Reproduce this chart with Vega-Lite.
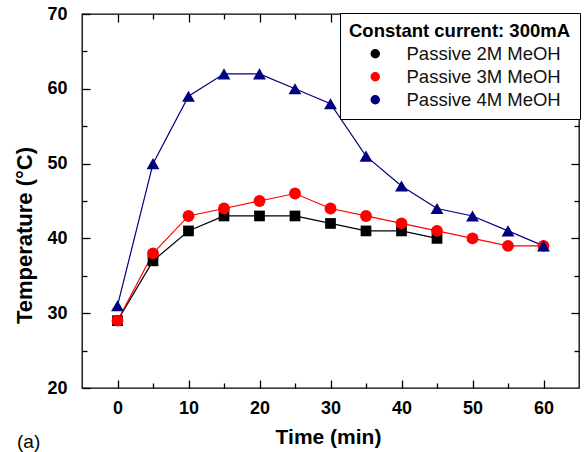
{
  "$schema": "https://vega.github.io/schema/vega-lite/v6.json",
  "width": 497,
  "height": 374,
  "autosize": "none",
  "padding": {"left": 82, "top": 14, "right": 5, "bottom": 64},
  "background": "white",
  "title": {"text": "(a)", "orient": "bottom", "anchor": "start", "frame": "group", "font": "Liberation Sans", "fontSize": 19, "fontWeight": "normal", "color": "black", "dx": -65, "dy": -18},
  "data": {"values": [
    {"t": 0, "temp": 29, "s": "Passive 2M MeOH"},
    {"t": 5, "temp": 37, "s": "Passive 2M MeOH"},
    {"t": 10, "temp": 41, "s": "Passive 2M MeOH"},
    {"t": 15, "temp": 43, "s": "Passive 2M MeOH"},
    {"t": 20, "temp": 43, "s": "Passive 2M MeOH"},
    {"t": 25, "temp": 43, "s": "Passive 2M MeOH"},
    {"t": 30, "temp": 42, "s": "Passive 2M MeOH"},
    {"t": 35, "temp": 41, "s": "Passive 2M MeOH"},
    {"t": 40, "temp": 41, "s": "Passive 2M MeOH"},
    {"t": 45, "temp": 40, "s": "Passive 2M MeOH"},
    {"t": 0, "temp": 29, "s": "Passive 3M MeOH"},
    {"t": 5, "temp": 38, "s": "Passive 3M MeOH"},
    {"t": 10, "temp": 43, "s": "Passive 3M MeOH"},
    {"t": 15, "temp": 44, "s": "Passive 3M MeOH"},
    {"t": 20, "temp": 45, "s": "Passive 3M MeOH"},
    {"t": 25, "temp": 46, "s": "Passive 3M MeOH"},
    {"t": 30, "temp": 44, "s": "Passive 3M MeOH"},
    {"t": 35, "temp": 43, "s": "Passive 3M MeOH"},
    {"t": 40, "temp": 42, "s": "Passive 3M MeOH"},
    {"t": 45, "temp": 41, "s": "Passive 3M MeOH"},
    {"t": 50, "temp": 40, "s": "Passive 3M MeOH"},
    {"t": 55, "temp": 39, "s": "Passive 3M MeOH"},
    {"t": 60, "temp": 39, "s": "Passive 3M MeOH"},
    {"t": 0, "temp": 31, "s": "Passive 4M MeOH"},
    {"t": 5, "temp": 50, "s": "Passive 4M MeOH"},
    {"t": 10, "temp": 59, "s": "Passive 4M MeOH"},
    {"t": 15, "temp": 62, "s": "Passive 4M MeOH"},
    {"t": 20, "temp": 62, "s": "Passive 4M MeOH"},
    {"t": 25, "temp": 60, "s": "Passive 4M MeOH"},
    {"t": 30, "temp": 58, "s": "Passive 4M MeOH"},
    {"t": 35, "temp": 51, "s": "Passive 4M MeOH"},
    {"t": 40, "temp": 47, "s": "Passive 4M MeOH"},
    {"t": 45, "temp": 44, "s": "Passive 4M MeOH"},
    {"t": 50, "temp": 43, "s": "Passive 4M MeOH"},
    {"t": 55, "temp": 41, "s": "Passive 4M MeOH"},
    {"t": 60, "temp": 39, "s": "Passive 4M MeOH"}
  ]},
  "resolve": {"axis": {"x": "independent", "y": "independent"}},
  "layer": [
    {
      "mark": {"type": "line", "strokeWidth": 1.2},
      "encoding": {
        "x": {"field": "t", "type": "quantitative", "scale": {"domain": [-5, 65], "nice": false, "zero": false},
          "axis": {"orient": "bottom", "title": "Time (min)", "values": [0,10,20,30,40,50,60], "tickSize": 8, "offset": -8, "domain": false,
            "labelPadding": 11, "titleX": 246, "titleY": 63, "titleBaseline": "alphabetic", "titleAlign": "center", "titleFontSize": 21}},
        "y": {"field": "temp", "type": "quantitative", "scale": {"domain": [20, 70], "nice": false, "zero": false},
          "axis": {"orient": "left", "title": "Temperature (°C)", "values": [20,30,40,50,60,70], "tickSize": 8, "offset": -8, "domain": false,
            "labelPadding": 15, "titleX": -59, "titleY": 221, "titleAngle": -90, "titleBaseline": "alphabetic", "titleAlign": "center", "titleFontSize": 22}},
        "color": {"field": "s", "type": "nominal",
          "scale": {"domain": ["Passive 2M MeOH", "Passive 3M MeOH", "Passive 4M MeOH"], "range": ["#000000", "#ff0000", "#000080"]}},
        "detail": {"field": "s"}
      }
    },
    {
      "transform": [{"filter": "datum.s === 'Passive 2M MeOH'"}],
      "mark": {"type": "point", "shape": "square", "filled": true, "opacity": 1, "size": 115, "strokeWidth": 0},
      "encoding": {
        "x": {"field": "t", "type": "quantitative", "axis": null},
        "y": {"field": "temp", "type": "quantitative", "axis": null},
        "color": {"field": "s", "type": "nominal",
          "legend": {
            "title": "Constant current: 300mA",
            "orient": "none", "legendX": 258, "legendY": -1,
            "strokeColor": "black", "fillColor": "white", "padding": 9,
            "titleFont": "Liberation Sans", "titleFontSize": 18.5, "titleFontWeight": "bold", "titleColor": "black", "titleLimit": 400,
            "labelFont": "Liberation Sans", "labelFontSize": 18.5, "labelColor": "#111111", "labelLimit": 400,
            "symbolSize": 64, "symbolOffset": 17, "labelOffset": 22, "rowPadding": 4, "titlePadding": 4,
            "encode": {
              "symbols": {
                "shape": {"condition": [
                  {"test": "datum.value === 'Passive 2M MeOH'", "value": "M-3.75,0H-1.2M1.5,0H6.7M-0.9,-0.9H0.9V0.9H-0.9Z"},
                  {"test": "datum.value === 'Passive 3M MeOH'", "value": "M-3.75,0H-1.2M1.5,0H6.7M-1,0A1,1 0 1,0 1,0A1,1 0 1,0 -1,0Z"}
                ], "value": "M-3.75,0H-1.2M1.5,0H6.7M0,-1.1L1.1,0.8H-1.1Z"},
                "stroke": {"condition": [
                  {"test": "datum.value === 'Passive 2M MeOH'", "value": "#000000"},
                  {"test": "datum.value === 'Passive 3M MeOH'", "value": "#ff0000"}
                ], "value": "#000080"},
                "size": {"value": 64},
                "strokeWidth": {"value": 1.1},
                "opacity": {"value": 1}
              }
            }
          }}
      }
    },
    {
      "transform": [{"filter": "datum.s === 'Passive 3M MeOH'"}],
      "mark": {"type": "point", "shape": "circle", "filled": true, "opacity": 1, "size": 140, "strokeWidth": 0},
      "encoding": {
        "x": {"field": "t", "type": "quantitative", "axis": null},
        "y": {"field": "temp", "type": "quantitative", "axis": null},
        "color": {"field": "s", "type": "nominal"}
      }
    },
    {
      "transform": [{"filter": "datum.s === 'Passive 4M MeOH'"}],
      "mark": {"type": "point", "shape": "triangle-up", "filled": true, "opacity": 1, "size": 165, "strokeWidth": 0},
      "encoding": {
        "x": {"field": "t", "type": "quantitative", "axis": null},
        "y": {"field": "temp", "type": "quantitative", "axis": null},
        "color": {"field": "s", "type": "nominal"}
      }
    },
    {
      "mark": {"type": "point", "size": 0},
      "encoding": {
        "x": {"field": "t", "type": "quantitative",
          "axis": {"orient": "bottom", "title": null, "labels": false, "domain": false, "values": [5,15,25,35,45,55], "tickSize": 5, "offset": -5}},
        "y": {"field": "temp", "type": "quantitative",
          "axis": {"orient": "left", "title": null, "labels": false, "domain": false, "values": [25,35,45,55,65], "tickSize": 5, "offset": -5}}
      }
    },
    {
      "mark": {"type": "point", "size": 0},
      "encoding": {
        "x": {"field": "t", "type": "quantitative",
          "axis": {"orient": "top", "title": null, "labels": false, "domain": false, "values": [0,10,20,30,40,50,60], "tickSize": 8, "offset": -8}},
        "y": {"field": "temp", "type": "quantitative",
          "axis": {"orient": "right", "title": null, "labels": false, "domain": false, "values": [30,40,50,60], "tickSize": 8, "offset": -8}}
      }
    },
    {
      "mark": {"type": "point", "size": 0},
      "encoding": {
        "x": {"field": "t", "type": "quantitative",
          "axis": {"orient": "top", "title": null, "labels": false, "domain": false, "values": [5,15,25,35,45,55], "tickSize": 5, "offset": -5}},
        "y": {"field": "temp", "type": "quantitative",
          "axis": {"orient": "right", "title": null, "labels": false, "domain": false, "values": [25,35,45,55,65], "tickSize": 5, "offset": -5}}
      }
    }
  ],
  "config": {
    "view": {"stroke": "black", "strokeWidth": 1.3},
    "axis": {
      "grid": false, "ticks": true, "domainColor": "black", "domainWidth": 1.3, "tickColor": "black", "tickWidth": 1.3,
      "labelFont": "Liberation Sans", "labelFontSize": 18, "labelFontWeight": "bold", "labelColor": "black",
      "titleFont": "Liberation Sans", "titleFontWeight": "bold", "titleColor": "black"
    }
  }
}
